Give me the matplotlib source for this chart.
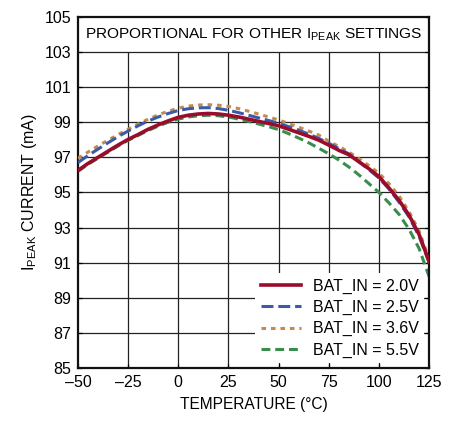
import matplotlib
matplotlib.use('Agg')
import matplotlib.pyplot as plt
import numpy as np

plt.rcParams['font.family'] = ['Liberation Sans', 'DejaVu Sans']
plt.rcParams['mathtext.fontset'] = 'custom'
plt.rcParams['mathtext.rm'] = 'Liberation Sans'

temp = [-50, -45, -40, -35, -30, -25, -20, -15, -10, -5, 0, 5, 10, 15, 20, 25,
        30, 35, 40, 45, 50, 55, 60, 65, 70, 75, 80, 85, 90, 95, 100, 105, 110,
        115, 120, 125]

bat_2v0 = [96.25, 96.65, 97.0, 97.35, 97.7, 98.02, 98.3, 98.6, 98.85, 99.08,
           99.28, 99.4, 99.47, 99.5, 99.47, 99.4, 99.3, 99.18, 99.05, 98.93,
           98.8, 98.6, 98.4, 98.2, 97.98, 97.7, 97.4, 97.15, 96.75, 96.35,
           95.9, 95.25, 94.55, 93.7, 92.6, 91.05]
bat_2v5 = [96.7, 97.1, 97.47, 97.83, 98.18, 98.5, 98.8, 99.07, 99.3, 99.5,
           99.67, 99.77, 99.82, 99.83, 99.78, 99.68, 99.55, 99.4, 99.25, 99.1,
           98.94, 98.75, 98.55, 98.32, 98.08, 97.8, 97.5, 97.2, 96.75, 96.3,
           95.82, 95.2, 94.45, 93.6, 92.5, 91.0]
bat_3v6 = [96.95, 97.3, 97.65, 97.98, 98.3, 98.6, 98.9, 99.17, 99.42, 99.63,
           99.8, 99.92, 99.98, 100.0, 99.97, 99.9, 99.78, 99.63, 99.47, 99.3,
           99.13, 98.93, 98.72, 98.5, 98.27, 97.92, 97.62, 97.3, 96.93, 96.53,
           96.1, 95.5, 94.8, 93.9, 92.8, 91.2]
bat_5v5 = [96.2, 96.6, 96.95, 97.3, 97.65, 97.97, 98.25, 98.53, 98.78, 99.0,
           99.18, 99.3, 99.37, 99.4, 99.37, 99.3, 99.18, 99.05, 98.9, 98.75,
           98.58, 98.35, 98.1, 97.83, 97.52, 97.2, 96.85, 96.45, 96.0, 95.5,
           95.0, 94.4, 93.75, 92.9, 91.8, 90.2]

xticks = [-50, -25, 0, 25, 50, 75, 100, 125]
yticks = [85, 87, 89, 91, 93, 95, 97, 99, 101, 103, 105]
xlabels = ['\u201350', '\u201325', '0', '25', '50', '75', '100', '125']

fig = plt.figure(figsize=(4.61, 4.23), dpi=100)
ax = fig.add_axes([0.169, 0.130, 0.762, 0.830])

# grid: horizontal everywhere, vertical only under the title band
for yv in yticks[1:-1]:
    ax.axhline(yv, color='#222222', lw=0.9, zorder=1)
ax.vlines(xticks[1:-1], yticks[0], yticks[-2], color='#222222', lw=0.9, zorder=1)

ax.plot(temp, bat_2v0, color='#9a0b2c', lw=2.6, label='BAT_IN = 2.0V', zorder=5)
ax.plot(temp, bat_2v5, color='#3b5ba8', lw=2.2, dashes=(3.9, 1.6), label='BAT_IN = 2.5V', zorder=4)
ax.plot(temp, bat_3v6, color='#c8894c', lw=2.2, dashes=(1.5, 1.6), label='BAT_IN = 3.6V', zorder=3)
ax.plot(temp, bat_5v5, color='#3a8e4c', lw=2.2, dashes=(2.9, 1.6), label='BAT_IN = 5.5V', zorder=2)

ax.text(37.5, 104, r'PROPORTIONAL FOR OTHER I$_{\mathregular{PEAK}}$ SETTINGS',
        ha='center', va='center', fontsize=11.1)

ax.set_xlim(-50, 125)
ax.set_ylim(85, 105)
ax.set_xticks(xticks)
ax.set_xticklabels(xlabels)
ax.set_yticks(yticks)
ax.tick_params(direction='in', length=3, width=0.9, labelsize=11.5, pad=5,
               top=False, right=True)
for s in ax.spines.values():
    s.set_linewidth(1.6)
    s.set_color('#111111')

ax.set_xlabel('TEMPERATURE (\u00b0C)', fontsize=11.2, labelpad=5)
ax.set_ylabel(r'I$_{\mathregular{PEAK}}$ CURRENT (mA)', fontsize=11.5, labelpad=4)

leg = ax.legend(loc='lower right', fontsize=11.5, handlelength=2.5,
                frameon=True, fancybox=False, borderaxespad=0.3,
                labelspacing=0.38, handletextpad=0.75, borderpad=0.35)
leg.get_frame().set_edgecolor('none')
leg.get_frame().set_facecolor('white')
leg.get_frame().set_alpha(1)
leg.set_zorder(10)

fig.savefig('out.png', dpi=100)
